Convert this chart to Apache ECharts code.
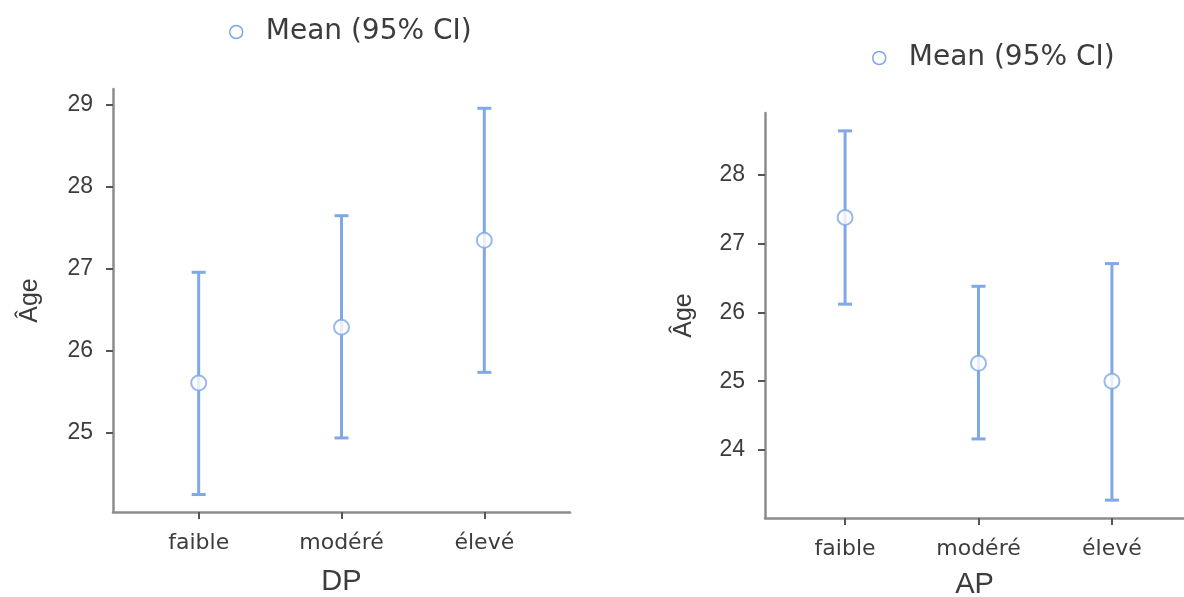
<!DOCTYPE html>
<html>
<head>
<meta charset="utf-8">
<script src="https://cdn.jsdelivr.net/npm/echarts@6/dist/echarts.min.js"></script>
<style>
  html, body { margin: 0; padding: 0; background: #fff; }
  #chart { width: 1184px; height: 597px; }
</style>
</head>
<body>
<div id="chart"></div>
<script>
(function() {
const categories = ['faible', 'modéré', 'élevé'];
const catPos = [1, 2, 3];

// DP panel
const dpMean = [25.61, 26.29, 27.35];
const dpLower = [24.25, 24.94, 25.74];
const dpUpper = [26.96, 27.65, 28.96];
const dpTicks = [25, 26, 27, 28, 29];

// AP panel
const apMean = [27.38, 25.26, 25.0];
const apLower = [26.12, 24.16, 23.27];
const apUpper = [28.64, 26.38, 26.71];
const apTicks = [24, 25, 26, 27, 28];

const seriesName = 'Mean (95% CI)';
const blue = '#7fa8e6';
const axisGrey = '#8c8c8c';
const textGrey = '#3c3c3c';

const errorBar = (params, api) => {
    const x = api.value(0);
    const lo = api.coord([x, api.value(1)]);
    const hi = api.coord([x, api.value(2)]);
    const cap = 7;
    const style = { stroke: blue, lineWidth: 3 };
    return {
        type: 'group',
        children: [
            { type: 'line', shape: { x1: lo[0], y1: lo[1], x2: hi[0], y2: hi[1] }, style: style },
            { type: 'line', shape: { x1: lo[0] - cap, y1: lo[1], x2: lo[0] + cap, y2: lo[1] }, style: style },
            { type: 'line', shape: { x1: hi[0] - cap, y1: hi[1], x2: hi[0] + cap, y2: hi[1] }, style: style }
        ]
    };
};

const xAxisFor = (idx, max, name, gap) => ({
    type: 'value',
    gridIndex: idx,
    min: 0.4,
    max: max,
    name: name,
    nameLocation: 'middle',
    nameGap: gap,
    nameTextStyle: { fontSize: 29, color: textGrey, fontFamily: 'Liberation Sans' },
    axisLine: { show: true, lineStyle: { color: axisGrey, width: 2.5 } },
    axisTick: { show: true, length: 7, customValues: catPos, lineStyle: { color: '#555', width: 2 } },
    axisLabel: {
        customValues: catPos,
        margin: 20,
        fontSize: 22,
        color: textGrey,
        fontFamily: 'DejaVu Sans',
        formatter: (v) => categories[Math.round(v) - 1]
    },
    splitLine: { show: false }
});

const yAxisFor = (idx, min, max, ticks, gap) => ({
    type: 'value',
    gridIndex: idx,
    min: min,
    max: max,
    name: 'Âge',
    nameLocation: 'middle',
    nameGap: gap,
    nameTextStyle: { fontSize: 25, color: textGrey, fontFamily: 'Liberation Sans' },
    axisLine: { show: true, lineStyle: { color: axisGrey, width: 2.5 } },
    axisTick: { show: true, length: 7, customValues: ticks, lineStyle: { color: '#555', width: 2 } },
    axisLabel: {
        customValues: ticks,
        margin: 20,
        fontSize: 23,
        color: textGrey,
        fontFamily: 'Liberation Sans'
    },
    splitLine: { show: false }
});

const legendFor = (left, top) => ({
    left: left,
    top: top,
    itemWidth: 13,
    itemHeight: 13,
    itemGap: 10,
    data: [{ name: seriesName, icon: 'circle', itemStyle: { color: '#fff', borderColor: blue, borderWidth: 1.5 } }],
    textStyle: { fontSize: 28, color: textGrey, fontFamily: 'DejaVu Sans', padding: [0, 0, 0, 18] }
});

const option = {
    animation: false,
    legend: [legendFor(224, 13), legendFor(867, 39)],
    grid: [
        { left: 113, top: 89, width: 457, height: 423, outerBoundsMode: 'none' },
        { left: 765, top: 113, width: 419, height: 405, outerBoundsMode: 'none' }
    ],
    xAxis: [xAxisFor(0, 3.6, 'DP', 55), xAxisFor(1, 3.54, 'AP', 52)],
    yAxis: [yAxisFor(0, 24.037, 29.195, dpTicks, 70), yAxisFor(1, 23.01, 28.9, apTicks, 68)],
    series: [
        {
            type: 'custom', name: seriesName, xAxisIndex: 0, yAxisIndex: 0,
            renderItem: errorBar,
            data: catPos.map((x, i) => [x, dpLower[i], dpUpper[i]])
        },
        {
            type: 'scatter', name: seriesName, xAxisIndex: 0, yAxisIndex: 0,
            symbol: 'circle', symbolSize: 15, z: 5,
            itemStyle: { color: '#fff', borderColor: blue, borderWidth: 2 },
            data: catPos.map((x, i) => [x, dpMean[i]])
        },
        {
            type: 'custom', name: seriesName, xAxisIndex: 1, yAxisIndex: 1,
            renderItem: errorBar,
            data: catPos.map((x, i) => [x, apLower[i], apUpper[i]])
        },
        {
            type: 'scatter', name: seriesName, xAxisIndex: 1, yAxisIndex: 1,
            symbol: 'circle', symbolSize: 15, z: 5,
            itemStyle: { color: '#fff', borderColor: blue, borderWidth: 2 },
            data: catPos.map((x, i) => [x, apMean[i]])
        }
    ]
};

const chart = echarts.init(document.getElementById('chart'));
chart.setOption(option);
window.addEventListener('resize', () => chart.resize());
})();
</script>
</body>
</html>
